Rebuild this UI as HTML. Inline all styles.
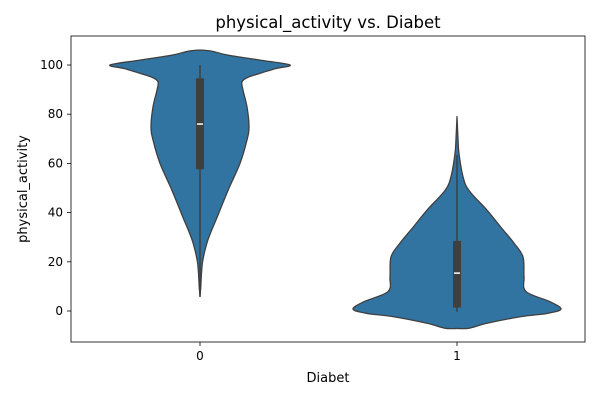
<!DOCTYPE html>
<html><head><meta charset="utf-8"><style>
body{margin:0;background:#fff;font-family:"Liberation Sans","DejaVu Sans",sans-serif}
svg text{font-family:"DejaVu Sans","Liberation Sans",sans-serif;fill:#000}
</style></head><body>
<svg id="chart" width="600" height="400" xmlns="http://www.w3.org/2000/svg">
<text x="328" y="28" font-size="16.5" text-anchor="middle">physical_activity vs. Diabet</text>
<g id="plot"></g>
<rect x="71" y="36" width="514" height="306" fill="none" stroke="#000" stroke-width="0.8"/>
<text x="328" y="382" font-size="13" text-anchor="middle">Diabet</text>
<text x="27" y="189" font-size="13" text-anchor="middle" transform="rotate(-90 27 189)">physical_activity</text>
</svg>
<script>
const categories=["0","1"];
const yTicks=[0,20,40,60,80,100];
const v0Values=[106.1,105.6,104,102,100,98.5,96.6,95,93.2,89.8,83,75,69.5,60,49,38,29,21,15.4,10,6];
const v0Widths=[0,12,28,60,90,75,60,48,42,43,47,49,47,40,28,17,8,3,1.5,0.8,0];
const v1Values=[79,70,64,54.6,49,41,34,27.6,22,14,7.9,3.8,0.8,-1,-2.3,-5,-7,-7.1];
const v1Widths=[0,1,2,6,12,30,44,57,66,67,69,93,104,90,64,30,12,0];
const q1=[57.6,1.4],q3=[94.6,28.5],medians=[76,15.4],whiskLo=[5.7,-0.3],whiskHi=[100,63.4];
const NS="http://www.w3.org/2000/svg";
const y=v=>311-(v)*2.46;
const x=i=>200+i*257;
const g=document.getElementById('plot');
const svg=document.getElementById('chart');
function mk(t,a){const e=document.createElementNS(NS,t);for(const k in a)e.setAttribute(k,a[k]);return e;}
function smooth(pts){
  let d='M'+pts[0][0]+','+pts[0][1];
  for(let k=0;k<pts.length-1;k++){
    const p0=pts[Math.max(0,k-1)],p1=pts[k],p2=pts[k+1],p3=pts[Math.min(pts.length-1,k+2)];
    const c1=[p1[0]+(p2[0]-p0[0])/6,p1[1]+(p2[1]-p0[1])/6];
    const c2=[p2[0]-(p3[0]-p1[0])/6,p2[1]-(p3[1]-p1[1])/6];
    d+='C'+c1.join(',')+' '+c2.join(',')+' '+p2.join(',');
  }
  return d;
}
yTicks.forEach(t=>{
  const l=mk('line',{x1:67,x2:71,y1:y(t),y2:y(t),stroke:'#000','stroke-width':0.8});
  
  
  svg.appendChild(l);
  const tx=mk('text',{x:63,y:y(t)+4,'font-size':12,'text-anchor':'end'});
  tx.textContent=t;
  
  
  svg.appendChild(tx);
});
categories.forEach((c,i)=>{
  const l=mk('line',{x1:x(i),x2:x(i),y1:342,y2:346,stroke:'#000','stroke-width':0.8});
  
  
  svg.appendChild(l);
  const tx=mk('text',{x:x(i),y:360,'font-size':12,'text-anchor':'middle'});
  tx.textContent=c;
  
  
  svg.appendChild(tx);
});
[[v0Values,v0Widths],[v1Values,v1Widths]].forEach(([vals,w],i)=>{
  const cx=x(i);
  const r=vals.map((v,k)=>[cx+w[k],y(v)]);
  const l=vals.map((v,k)=>[cx-w[k],y(v)]).reverse();
  const d=smooth(r)+smooth(l).replace('M','L')+'Z';
  const p=mk('path',{d:d,fill:'#3274a1',stroke:'#3f3f3f','stroke-width':1.3,'stroke-linejoin':'round'});
  
  
  g.appendChild(p);
  const wl=mk('line',{x1:cx,x2:cx,y1:y(whiskLo[i]),y2:y(whiskHi[i]),stroke:'#3f3f3f','stroke-width':1.5});
  
  
  g.appendChild(wl);
  const b=mk('rect',{x:cx-4,y:y(q3[i]),width:8,height:y(q1[i])-y(q3[i]),fill:'#3f3f3f'});
  
  
  g.appendChild(b);
  const m=mk('line',{x1:cx-3,x2:cx+3,y1:y(medians[i]),y2:y(medians[i]),stroke:'#fff','stroke-width':1.5});
  
  
  g.appendChild(m);
});
</script>
</body></html>
